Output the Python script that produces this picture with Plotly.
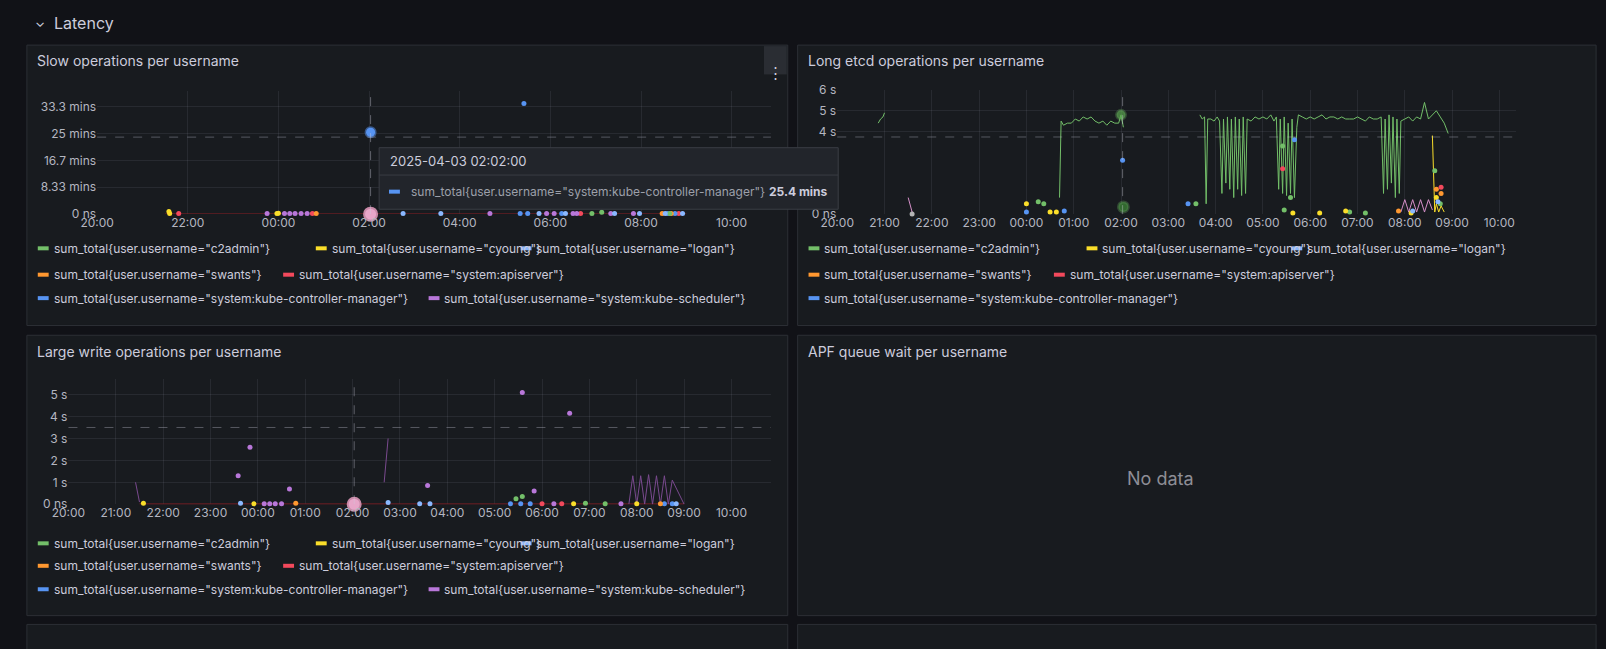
import plotly.graph_objects as go
from datetime import datetime, timedelta

W, H = 1606, 649
BG = "#111217"; PANEL = "#181b1f"; BORDER = "#2c2f35"; TXT = "#ccccdc"; TICK = "#b4b6c0"
GRID = "rgba(204,204,220,0.09)"
C = {"c2admin": "#73BF69", "cyoung": "#FADE2A", "logan": "#8AB8FF", "swants": "#FF9830",
     "system:apiserver": "#F2495C", "system:kube-controller-manager": "#5794F2",
     "system:kube-scheduler": "#B877D9"}

# ---------------- data ----------------
x_ticks = ["20:00", "21:00", "22:00", "23:00", "00:00", "01:00", "02:00", "03:00", "04:00",
           "05:00", "06:00", "07:00", "08:00", "09:00", "10:00"]
slow_ticks_v = [0, 8.333, 16.667, 25, 33.333]
slow_ticks_t = ["0 ns", "8.33 mins", "16.7 mins", "25 mins", "33.3 mins"]
etcd_ticks_v = [0, 4, 5, 6]
etcd_ticks_t = ["0 ns", "4 s", "5 s", "6 s"]
write_ticks_v = [0, 1, 2, 3, 4, 5]
write_ticks_t = ["0 ns", "1 s", "2 s", "3 s", "4 s", "5 s"]

# Panel 1: slow operations (minutes)
slow_pts = {
    "cyoung": (["21:35", "21:36", "23:58", "00:00"], [0.8, 0.2, 0.2, 0.3]),
    "system:apiserver": (["21:48", "00:45", "06:40", "08:50"], [0.2, 0.2, 0.2, 0.2]),
    "system:kube-scheduler": (["23:45", "00:08", "00:15", "00:22", "00:30", "00:38", "04:40", "05:55", "06:05", "06:30", "06:35", "07:20", "07:50"],
                              [0.2] * 13),
    "system:kube-controller-manager": (["05:25", "05:20", "05:30", "06:15", "08:35", "08:45"],
                                       [34.3, 0.2, 0.2, 0.2, 0.2, 0.2]),
    "swants": (["00:50", "08:28", "08:40"], [0.2, 0.2, 0.2]),
    "c2admin": (["06:55", "07:08", "08:38"], [0.2, 0.6, 0.2]),
    "logan": (["02:45", "03:35", "05:45", "06:20", "07:25", "07:58", "08:32", "08:55"], [0.2] * 8),
}
slow_red_line = (["21:30", "22:00", "02:00", "04:00", "06:00", "08:00", "09:00"], [0, 0, 0, 0, 0, 0, 0])
slow_hover = (["02:02"], [25.4])

# Panel 2: long etcd operations (seconds)
etcd_green_t = ["20:52", "20:55", "20:58", "21:00", None,
    "00:42", "00:44", "00:47", "00:52", "00:57", "01:02", "01:07", "01:12", "01:17", "01:22", "01:27", "01:32", "01:37",
    "01:42", "01:47", "01:52", "01:57", "02:00", "02:03", None,
    "03:40", "03:43", "03:46", "03:48", "03:50", "03:54", "03:58", "04:02", "04:05", "04:08", "04:10", "04:13", "04:15",
    "04:18", "04:20", "04:23", "04:25", "04:28", "04:30", "04:33", "04:35", "04:38", "04:40", "04:45", "04:50", "04:55",
    "05:00", "05:05", "05:10", "05:14", "05:17", "05:20", "05:22", "05:25", "05:27", "05:30", "05:32", "05:35", "05:37",
    "05:40", "05:43", "05:45", "05:50", "05:55", "06:00", "06:05", "06:10", "06:15", "06:20", "06:25", "06:30", "06:35",
    "06:40", "06:45", "06:50", "06:55", "07:00", "07:05", "07:10", "07:15", "07:20", "07:25", "07:30", "07:33", "07:35",
    "07:38", "07:40", "07:43", "07:45", "07:48", "07:50", "07:53", "07:55", "08:00", "08:05", "08:10", "08:15", "08:20",
    "08:25", "08:30", "08:35", "08:40", "08:45", "08:50", "08:55"]
etcd_green_v = [4.4, 4.6, 4.7, 4.9, None,
    0.8, 4.5, 4.3, 4.4, 4.4, 4.6, 4.5, 4.7, 4.6, 4.7, 4.5, 4.4, 4.5,
    4.3, 4.5, 4.4, 4.4, 4.8, 4.2, None,
    4.8, 4.6, 4.7, 0.5, 4.6, 4.6, 4.5, 4.7, 4.5, 1.0, 4.6, 1.5, 4.7,
    1.2, 4.6, 0.8, 4.7, 1.2, 4.6, 0.9, 4.7, 1.0, 4.6, 4.5, 4.7, 4.6,
    4.7, 4.6, 4.8, 4.5, 4.7, 1.2, 4.6, 1.0, 4.7, 0.9, 4.4, 1.0, 4.6,
    0.8, 4.2, 4.8, 4.7, 4.6, 4.7, 4.6, 4.7, 4.8, 4.6, 4.7, 4.7, 4.6,
    4.7, 4.6, 4.6, 4.6, 4.7, 4.6, 4.5, 4.7, 4.6, 4.6, 4.7, 1.0, 4.6,
    1.2, 4.8, 1.5, 4.7, 0.8, 4.6, 1.0, 4.5, 4.6, 4.7, 4.5, 4.7, 4.6,
    5.4, 4.6, 4.8, 5.0, 4.7, 4.4, 3.9]
etcd_pts = {
    "c2admin": (["00:15", "00:22", "03:35", "05:25", "05:35", "05:27", "06:50", "07:10", "08:38", "08:45"],
                [0.6, 0.5, 0.5, 3.3, 0.8, 0.2, 0.1, 0.05, 2.1, 0.5]),
    "cyoung": (["00:00", "00:30", "00:38", "05:38", "06:12", "06:45", "08:08", "08:40"],
               [0.5, 0.1, 0.1, 0.05, 0.05, 0.15, 0.05, 0.8]),
    "logan": (["08:10", "08:42"], [0.15, 0.6]),
    "swants": (["07:52", "08:40", "08:46"], [0.15, 1.2, 1.0]),
    "system:apiserver": (["05:25", "08:46"], [2.2, 1.3]),
    "system:kube-controller-manager": (["00:00", "00:48", "02:02", "03:25", "05:40"], [0.1, 0.15, 2.6, 0.5, 3.6]),
}
etcd_big = (["02:00", "02:03", "21:35"], [4.8, 0.35, 0.0])
etcd_sched_line = (["21:30", "21:35", None, "07:55", "08:00", "08:05", "08:10", "08:15", "08:20", "08:25", "08:30", "08:35"],
                   [0.8, 0.1, None, 0.1, 0.7, 0.1, 0.7, 0.1, 0.7, 0.1, 0.7, 0.2])
etcd_cyoung_line = (["08:35", "08:38", "08:40", "08:43", "08:46", "08:50"], [3.8, 0.1, 0.5, 0.1, 0.4, 0.1])

# Panel 3: large write operations (seconds)
write_pts = {
    "system:kube-scheduler": (["23:35", "23:50", "00:40", "03:35", "05:35", "05:50", "06:35", "00:08", "00:15", "00:22", "00:30", "06:15", "07:40"],
                              [1.3, 2.6, 0.7, 0.85, 5.1, 0.6, 4.15, 0.02, 0.02, 0.02, 0.02, 0.02, 0.02]),
    "cyoung": (["21:35", "23:55", "06:40", "08:00"], [0.05, 0.02, 0.02, 0.02]),
    "c2admin": (["05:27", "05:35", "06:55", "07:20"], [0.25, 0.35, 0.05, 0.02]),
    "system:kube-controller-manager": (["05:45", "05:20", "05:33", "08:35", "08:45"], [0.02, 0.02, 0.02, 0.02, 0.02]),
    "system:apiserver": (["06:00", "06:25"], [0.02, 0.02]),
    "swants": (["00:48", "08:30"], [0.05, 0.02]),
    "logan": (["23:38", "02:45", "03:25", "03:38", "08:50"], [0.05, 0.08, 0.02, 0.02, 0.02]),
}
write_red_line = (["21:30", "09:00"], [0, 0])
write_sched_line = (["21:25", "21:30", None, "02:40", "02:45", None, "07:50", "07:55", "08:00", "08:05", "08:10", "08:15", "08:20", "08:25", "08:30", "08:35", "08:40", "08:45", "09:00"],
                    [1.0, 0.1, None, 1.0, 3.0, None, 0.0, 1.3, 0.0, 1.3, 0.0, 1.35, 0.0, 1.3, 0.0, 1.3, 0.0, 1.1, 0.0])
big_dot = (["02:02"], [0.0])

legend_rows = [["c2admin", "cyoung", "logan"], ["swants", "system:apiserver"],
               ["system:kube-controller-manager", "system:kube-scheduler"]]
legend_rows_etcd = [["c2admin", "cyoung", "logan"], ["swants", "system:apiserver"],
                    ["system:kube-controller-manager"]]


def T(s):
    if s is None:
        return None
    h, m = map(int, s.split(":"))
    d = datetime(2025, 4, 2) if h >= 20 else datetime(2025, 4, 3)
    return d + timedelta(hours=h, minutes=m)


def px(x):
    return x / W


def py(y):
    return 1 - y / H


fig = go.Figure()
shapes, ann = [], []

for (x0, y0, x1, y1) in [(10, 38, 779, 325), (789, 38, 1596, 325), (10, 335, 779, 622), (789, 335, 1596, 622),
                         (10, 631, 779, 680), (789, 631, 1596, 680)]:
    shapes.append(dict(type="rect", xref="paper", yref="paper", x0=px(x0), x1=px(x1), y0=py(y0), y1=py(y1),
                       fillcolor=PANEL, line=dict(color=BORDER, width=1), layer="below"))
shapes.append(dict(type="rect", xref="paper", yref="paper", x0=px(755), x1=px(778), y0=py(39), y1=py(68),
                   fillcolor="#2a2d33", line=dict(width=0), layer="below"))
ann.append(dict(x=px(767), y=py(54), xref="paper", yref="paper", text="⋮", showarrow=False,
                font=dict(size=15, color=TXT)))

ann.append(dict(x=px(16), y=py(14), xref="paper", yref="paper", text="⌄", showarrow=False,
                font=dict(size=13, color=TXT), xanchor="left", yanchor="middle"))
ann.append(dict(x=px(35), y=py(15), xref="paper", yref="paper", text="Latency", showarrow=False,
                font=dict(size=16, color=TXT), xanchor="left", yanchor="middle"))

for (x, y, t) in [(18, 54, "Slow operations per username"), (797, 54, "Long etcd operations per username"),
                  (18, 352, "Large write operations per username"), (797, 352, "APF queue wait per username")]:
    ann.append(dict(x=px(x), y=py(y), xref="paper", yref="paper", text=t, showarrow=False,
                    font=dict(size=14, color=TXT), xanchor="left", yanchor="middle"))

ann.append(dict(x=px(1192), y=py(494), xref="paper", yref="paper", text="No data", showarrow=False,
                font=dict(size=18, color="#8e8e96")))

axes = {
    1: dict(dom_x=(81, 762), dom_y=(85, 211), rng=("20:00", "10:52"), yr=[0, 38.2], tv=slow_ticks_v, tt=slow_ticks_t, step=2),
    2: dict(dom_x=(829, 1515), dom_y=(84, 211), rng=("20:00", "10:21"), yr=[0, 6], tv=etcd_ticks_v, tt=etcd_ticks_t, step=1),
    3: dict(dom_x=(52, 762), dom_y=(380, 508), rng=("20:00", "10:50"), yr=[0, 5.7], tv=write_ticks_v, tt=write_ticks_t, step=1),
}
for i, a in axes.items():
    sfx = "" if i == 1 else str(i)
    tx = x_ticks[::a["step"]]
    fig.layout["xaxis" + sfx] = dict(domain=[px(a["dom_x"][0]), px(a["dom_x"][1])], anchor="y" + sfx,
                                     range=[T(a["rng"][0]), T(a["rng"][1])], tickvals=[T(t) for t in tx],
                                     ticktext=tx, showgrid=True, gridcolor=GRID, zeroline=False, showline=False,
                                     tickfont=dict(size=12, color=TICK), ticks="", fixedrange=True)
    fig.layout["yaxis" + sfx] = dict(domain=[py(a["dom_y"][1]), py(a["dom_y"][0])], anchor="x" + sfx,
                                     range=a["yr"], tickvals=a["tv"], ticktext=a["tt"], showgrid=True,
                                     gridcolor=GRID, zeroline=False, showline=False,
                                     tickfont=dict(size=12, color=TICK), ticks="", fixedrange=True)


def add_pts(ptsdict, xa, ya, size=5):
    for n, (t, v) in ptsdict.items():
        fig.add_trace(go.Scatter(x=[T(s) for s in t], y=v, mode="markers", xaxis=xa, yaxis=ya,
                                 marker=dict(color=C[n], size=size, line=dict(width=0)), cliponaxis=False,
                                 showlegend=False, hoverinfo="skip"))


def add_line(tv, color, xa, ya, width=1):
    t, v = tv
    fig.add_trace(go.Scatter(x=[T(s) for s in t], y=v, mode="lines", xaxis=xa, yaxis=ya,
                             line=dict(color=color, width=width), connectgaps=False, showlegend=False,
                             hoverinfo="skip", cliponaxis=False))


# panel 1
add_line(slow_red_line, "#8a1f24", "x", "y", 1.5)
add_pts(slow_pts, "x", "y")
fig.add_trace(go.Scatter(x=[T(s) for s in big_dot[0]], y=big_dot[1], mode="markers", xaxis="x", yaxis="y",
                         marker=dict(color="#e8a6c9", size=13, line=dict(color="#c98aa8", width=2)),
                         cliponaxis=False, showlegend=False, hoverinfo="skip"))
fig.add_trace(go.Scatter(x=[T(s) for s in slow_hover[0]], y=slow_hover[1], mode="markers", xaxis="x", yaxis="y",
                         marker=dict(color=C["system:kube-controller-manager"], size=9,
                                     line=dict(color="rgba(87,148,242,0.5)", width=3)),
                         cliponaxis=False, showlegend=False, hoverinfo="skip"))
# panel 2
add_line((etcd_green_t, etcd_green_v), C["c2admin"], "x2", "y2", 1)
add_line(etcd_sched_line, "#d58fc8", "x2", "y2", 1)
add_line(etcd_cyoung_line, C["cyoung"], "x2", "y2", 1)
add_pts(etcd_pts, "x2", "y2")
fig.add_trace(go.Scatter(x=[T(s) for s in etcd_big[0]], y=etcd_big[1], mode="markers", xaxis="x2", yaxis="y2",
                         marker=dict(color=["#5aa64f", "#3d8a37", "#f5f5f5"], size=[9, 10, 5],
                                     line=dict(color="rgba(115,191,105,0.4)", width=[3, 3, 0])),
                         cliponaxis=False, showlegend=False, hoverinfo="skip"))
# panel 3
add_line(write_red_line, "#8a1f24", "x3", "y3", 1.5)
add_line(write_sched_line, "#7a4a8f", "x3", "y3", 1)
add_pts(write_pts, "x3", "y3")
fig.add_trace(go.Scatter(x=[T(s) for s in big_dot[0]], y=big_dot[1], mode="markers", xaxis="x3", yaxis="y3",
                         marker=dict(color="#e8a6c9", size=13, line=dict(color="#c98aa8", width=2)),
                         cliponaxis=False, showlegend=False, hoverinfo="skip"))

for xa, ya, val in [("x", "y", 23.9), ("x2", "y2", 3.73), ("x3", "y3", 3.5)]:
    shapes.append(dict(type="line", xref=xa + " domain", yref=ya, x0=0, x1=1, y0=val, y1=val,
                       line=dict(color="rgba(204,204,220,0.35)", width=1, dash="dash")))
for xa, ya in [("x", "y"), ("x2", "y2"), ("x3", "y3")]:
    shapes.append(dict(type="line", xref=xa, yref=ya + " domain", x0=T("02:02"), x1=T("02:02"), y0=0, y1=1,
                       line=dict(color="rgba(204,204,220,0.4)", width=1, dash="dash")))


def legend(rows, x0, ys, xs_map):
    for r, row in enumerate(rows):
        for k, n in enumerate(row):
            x = x0 + xs_map[r][k]
            shapes.append(dict(type="line", xref="paper", yref="paper", x0=px(x), x1=px(x + 11),
                               y0=py(ys[r]), y1=py(ys[r]), line=dict(color=C[n], width=4)))
            ann.append(dict(x=px(x + 14), y=py(ys[r]), xref="paper", yref="paper",
                            text='sum_total{user.username="%s"}' % n, showarrow=False,
                            font=dict(size=12, color=TXT), xanchor="left", yanchor="middle"))


xs_map = [[0, 281, 488], [0, 248], [0, 395]]
legend(legend_rows, 21, [246, 273, 297], xs_map)
legend(legend_rows_etcd, 800, [246, 273, 297], xs_map)
legend(legend_rows, 21, [548, 571, 595], xs_map)

shapes.append(dict(type="rect", xref="paper", yref="paper", x0=px(366), x1=px(830), y0=py(143), y1=py(206),
                   fillcolor="#22252b", line=dict(color="#3a3d44", width=1), layer="above"))
shapes.append(dict(type="line", xref="paper", yref="paper", x0=px(366), x1=px(830), y0=py(171), y1=py(171),
                   line=dict(color="#3a3d44", width=1), layer="above"))
shapes.append(dict(type="line", xref="paper", yref="paper", x0=px(376), x1=px(387), y0=py(188), y1=py(188),
                   line=dict(color=C["system:kube-controller-manager"], width=4), layer="above"))
ann.append(dict(x=px(375), y=py(157), xref="paper", yref="paper", text="2025-04-03 02:02:00", showarrow=False,
                font=dict(size=13, color=TXT), xanchor="left", yanchor="middle"))
ann.append(dict(x=px(396), y=py(188), xref="paper", yref="paper",
                text='sum_total{user.username="system:kube-controller-manager"}', showarrow=False,
                font=dict(size=12, color="#9da0aa"), xanchor="left", yanchor="middle"))
ann.append(dict(x=px(822), y=py(188), xref="paper", yref="paper", text="<b>25.4 mins</b>", showarrow=False,
                font=dict(size=12, color=TXT), xanchor="right", yanchor="middle"))

fig.update_layout(width=W, height=H, margin=dict(l=0, r=0, t=0, b=0), paper_bgcolor=BG, plot_bgcolor=PANEL,
                  shapes=shapes, annotations=ann, font=dict(family="Inter, Roboto, sans-serif", color=TXT),
                  showlegend=False)
fig.write_html("out.html", config={"displayModeBar": False},
               post_script="document.body.style.margin='0';document.body.style.background='#111217';document.body.style.overflow='hidden';")
